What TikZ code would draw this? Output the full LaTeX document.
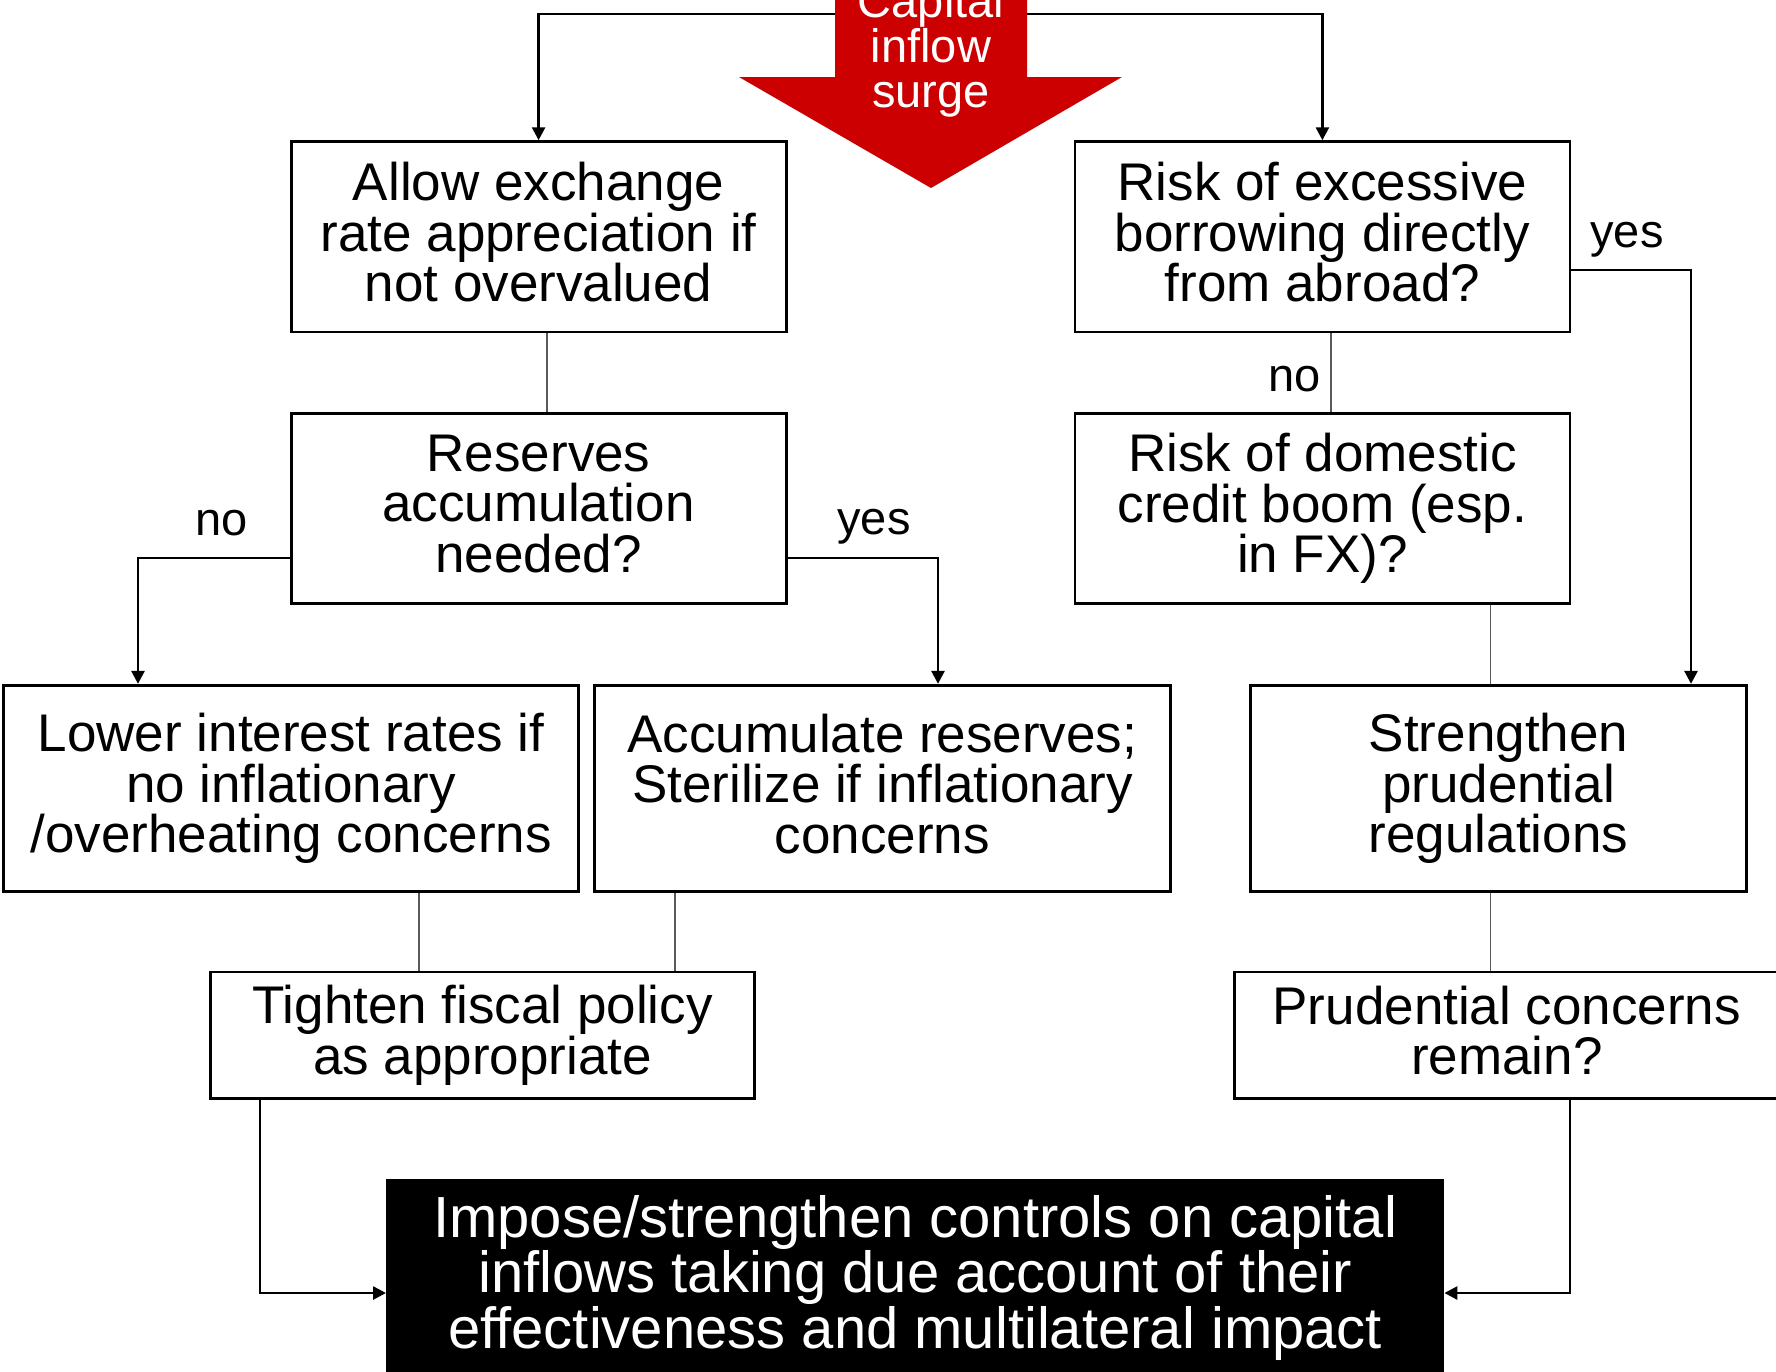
\documentclass[tikz,border=0pt]{standalone}
\usepackage{fontspec}
\setmainfont{Liberation Sans}
\usetikzlibrary{arrows.meta}
\definecolor{surgered}{HTML}{CC0000}
\newcommand\boxfont{\fontsize{53}{50.5}\selectfont}
\newcommand\lblfont{\fontsize{47}{47}\selectfont}
\newcommand\surgefont{\fontsize{47}{45}\selectfont}
\newcommand\bigfont{\fontsize{58}{55.5}\selectfont}
\tikzset{
  flowbox/.style={draw, line width=2.8pt, inner sep=0pt, align=center, font=\boxfont,
    fill=white, execute at begin node={\rule{0pt}{40pt}},
    execute at end node={\rule[-10pt]{0pt}{0pt}}},
  finalbox/.style={fill=black, text=white, inner sep=0pt, align=center, font=\bigfont,
    execute at begin node={\rule{0pt}{43.5pt}},
    execute at end node={\rule[-11pt]{0pt}{0pt}}},
  conn/.style={line width=2.7pt},
  arr/.style={conn, -{Triangle[length=13pt,width=13pt]}},
  thinconn/.style={line width=1.3pt, black!65},
  lbl/.style={font=\lblfont, anchor=base, inner sep=0pt},
}
\begin{document}
\begin{tikzpicture}[x=1pt,y=-1pt]
\clip (0,0) rectangle (1776,1371);
\fill[white] (0,0) rectangle (1776,1371);

% boxes
\node[flowbox, minimum width=495pt, minimum height=190.3pt] (A) at (538.6,236.8)
  {Allow exchange\\rate appreciation if\\not overvalued};
\node[flowbox, minimum width=495pt, minimum height=190.3pt] (B) at (538.6,508.5)
  {Reserves\\accumulation\\needed?};
\node[flowbox, minimum width=495pt, minimum height=190.3pt] (C) at (1322.4,236.8)
  {Risk of excessive\\borrowing directly\\from abroad?};
\node[flowbox, minimum width=495pt, minimum height=190.3pt] (D) at (1322.4,508.5)
  {Risk of domestic\\credit boom (esp.\\in FX)?};
\node[flowbox, minimum width=575.4pt, minimum height=206.1pt] (E) at (291.1,788.3)
  {Lower interest rates if\\no inflationary\\/overheating concerns};
\node[flowbox, minimum width=575.4pt, minimum height=206.1pt] (F) at (882.4,788.3)
  {Accumulate reserves;\\Sterilize if inflationary\\concerns};
\node[flowbox, minimum width=496.1pt, minimum height=206.1pt] (G) at (1498.5,788.3)
  {Strengthen\\prudential\\regulations};
\node[flowbox, minimum width=543.7pt, minimum height=126.8pt] (H) at (482.6,1035.3)
  {Tighten fiscal policy\\as appropriate};
\node[flowbox, minimum width=544.4pt, minimum height=126.8pt] (I) at (1506.8,1035.3)
  {Prudential concerns\\remain?};
\node[finalbox, minimum width=1058pt, minimum height=197pt] (J) at (915.2,1277.5)
  {Impose/strengthen controls on capital\\inflows taking due account of their\\effectiveness and multilateral impact};

% helper coordinates
\coordinate (sL) at (835,14);
\coordinate (sR) at (1027,14);
\coordinate (yb) at (0,558);
\coordinate (yc) at (0,270);
\coordinate (yj) at (0,1293);
\coordinate (xe) at (138,0);
\coordinate (xf) at (938,0);
\coordinate (xg) at (1691,0);
\coordinate (xab) at (547,0);
\coordinate (xcd) at (1331,0);
\coordinate (xdg) at (1490.5,0);
\coordinate (xeh) at (419,0);
\coordinate (xfh) at (675,0);
\coordinate (xhj) at (260,0);
\coordinate (xij) at (1570,0);

% top connectors from the surge arrow
\draw[arr] (sL) -| (A.north);
\draw[arr] (sR) -| (C.north);

% surge arrow
\fill[surgered] (835,-80) -- (835,77) -- (739,77) -- (931,188) -- (1122,77)
  -- (1027,77) -- (1027,-80) -- cycle;
\node[text=white, font=\surgefont, align=center, inner sep=0pt] (surge) at (931,50)
  {Capital\\inflow\\surge};

% decision connectors
\draw[arr] (B.west |- yb) -| (E.north -| xe);
\draw[arr] (B.east |- yb) -| (F.north -| xf);
\draw[arr] (C.east |- yc) -| (G.north -| xg);

% thin connectors
\draw[thinconn] (A.south -| xab) -- (B.north -| xab);
\draw[thinconn] (C.south -| xcd) -- (D.north -| xcd);
\draw[thinconn] (D.south -| xdg) -- (G.north -| xdg);
\draw[thinconn] (E.south -| xeh) -- (H.north -| xeh);
\draw[thinconn] (F.south -| xfh) -- (H.north -| xfh);
\draw[thinconn] (G.south -| xdg) -- (I.north -| xdg);

% to final box
\draw[arr] (H.south -| xhj) |- (J.west |- yj);
\draw[arr] (I.south -| xij) |- (J.east |- yj);

% labels
\node[lbl] (noB) at (222,535) {no};
\node[lbl] (yesB) at (874,534) {yes};
\node[lbl] (noC) at (1294.5,391) {no};
\node[lbl] (yesC) at (1627,247) {yes};
\end{tikzpicture}
\end{document}
